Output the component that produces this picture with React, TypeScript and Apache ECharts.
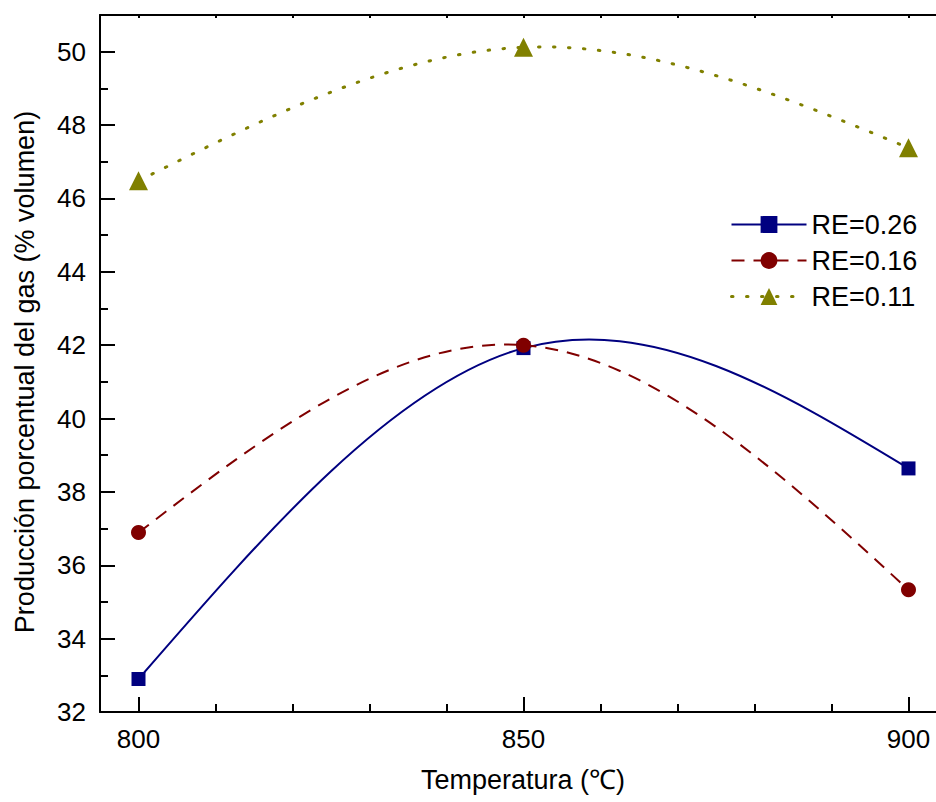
import React, { useEffect, useRef } from "react";
import * as echarts from "echarts";

const temperatures = [800, 850, 900];
const re026 = [32.9, 41.92, 38.64];
const re016 = [36.89, 42.0, 35.33];
const re011 = [46.48, 50.12, 47.38];

const xMajorTicks = [800, 850, 900];
const xMinorTicks = [810, 820, 830, 840, 860, 870, 880, 890];
const yMajorTicks = [32, 34, 36, 38, 40, 42, 44, 46, 48, 50];
const yMinorTicks = [33, 35, 37, 39, 41, 43, 45, 47, 49];

const seriesNames = ["RE=0.26", "RE=0.16", "RE=0.11"];

const FONT = "'Liberation Sans', Arial, sans-serif";

// Slopes of the natural cubic spline through (xs, ys) at each knot.
function splineSlopes(xs: number[], ys: number[]): number[] {
  const n = xs.length;
  if (n < 3) {
    const s = (ys[1] - ys[0]) / (xs[1] - xs[0]);
    return xs.map(() => s);
  }
  const h: number[] = [];
  for (let i = 0; i < n - 1; i++) h.push(xs[i + 1] - xs[i]);
  // tridiagonal system for interior second derivatives
  const m = n - 2;
  const a: number[] = [], b: number[] = [], c: number[] = [], d: number[] = [];
  for (let k = 0; k < m; k++) {
    const i = k + 1;
    a.push(h[i - 1]);
    b.push(2 * (h[i - 1] + h[i]));
    c.push(h[i]);
    d.push(6 * ((ys[i + 1] - ys[i]) / h[i] - (ys[i] - ys[i - 1]) / h[i - 1]));
  }
  for (let k = 1; k < m; k++) {
    const w = a[k] / b[k - 1];
    b[k] -= w * c[k - 1];
    d[k] -= w * d[k - 1];
  }
  const inner: number[] = new Array(m).fill(0);
  for (let k = m - 1; k >= 0; k--) {
    inner[k] = (d[k] - (k < m - 1 ? c[k] * inner[k + 1] : 0)) / b[k];
  }
  const M = [0, ...inner, 0];
  const slopes: number[] = [];
  for (let i = 0; i < n - 1; i++) {
    slopes.push((ys[i + 1] - ys[i]) / h[i] - (h[i] * (2 * M[i] + M[i + 1])) / 6);
  }
  const L = n - 2;
  slopes.push((ys[n - 1] - ys[L]) / h[L] + (h[L] * (M[L] + 2 * M[n - 1])) / 6);
  return slopes;
}

function splineSeries(ys: number[], color: string, lineStyle: any) {
  const slopes = splineSlopes(temperatures, ys);
  return {
    type: "custom",
    coordinateSystem: "cartesian2d",
    xAxisIndex: 0,
    yAxisIndex: 0,
    z: 1,
    silent: true,
    data: temperatures.map((t, i) => [t, ys[i]]),
    renderItem: (params: any, api: any) => {
      const i = params.dataIndex;
      if (i >= temperatures.length - 1) return null;
      const x0 = temperatures[i], x1 = temperatures[i + 1];
      const y0 = ys[i], y1 = ys[i + 1];
      const h = (x1 - x0) / 3;
      const p0 = api.coord([x0, y0]);
      const p1 = api.coord([x1, y1]);
      const c0 = api.coord([x0 + h, y0 + slopes[i] * h]);
      const c1 = api.coord([x1 - h, y1 - slopes[i + 1] * h]);
      return {
        type: "bezierCurve",
        shape: {
          x1: p0[0], y1: p0[1],
          x2: p1[0], y2: p1[1],
          cpx1: c0[0], cpy1: c0[1],
          cpx2: c1[0], cpy2: c1[1],
        },
        style: { fill: null, stroke: color, ...lineStyle },
      };
    },
  };
}

export default function App() {
  const ref = useRef<HTMLDivElement>(null);

  useEffect(() => {
    if (!ref.current) return;
    const chart = echarts.init(ref.current, null, { renderer: "svg" });
    const axisLine = { show: true, lineStyle: { color: "#000", width: 2 } };
    const xExtent = { min: 795, max: 905 };
    const yExtent = { min: 32, max: 51 };

    const colors = ["#000080", "#800000", "#808000"];
    const legendLines = [
      { color: colors[0], width: 2, type: "solid", opacity: 1 },
      { color: colors[1], width: 2, type: [13, 9], opacity: 1 },
      { color: colors[2], width: 3, type: [1.5, 13.5], cap: "round", opacity: 1 },
    ];

    chart.setOption({
      animation: false,
      backgroundColor: "#fff",
      grid: { left: 100, top: 15, bottom: 90, right: 13, containLabel: false },
      legend: {
        orient: "vertical",
        left: 725,
        top: 206,
        itemWidth: 75,
        itemHeight: 21,
        itemGap: 9,
        textStyle: { fontFamily: FONT, fontSize: 27, color: "#000" },
        data: seriesNames.map((n, i) => ({ name: n, lineStyle: legendLines[i] })),
      },
      xAxis: [
        {
          type: "value",
          position: "bottom",
          ...xExtent,
          axisLine,
          splitLine: { show: false },
          axisTick: {
            show: true,
            inside: true,
            length: 15,
            customValues: xMajorTicks,
            lineStyle: { color: "#000", width: 2 },
          },
          axisLabel: {
            customValues: xMajorTicks,
            margin: 14,
            fontFamily: FONT,
            fontSize: 26,
            color: "#000",
          },
        },
        {
          type: "value",
          position: "bottom",
          ...xExtent,
          axisLine: { show: false },
          splitLine: { show: false },
          axisTick: {
            show: true,
            inside: true,
            length: 8,
            customValues: xMinorTicks,
            lineStyle: { color: "#000", width: 2 },
          },
          axisLabel: { show: false },
        },
        {
          type: "value",
          position: "top",
          ...xExtent,
          axisLine,
          splitLine: { show: false },
          axisTick: {
            show: true,
            inside: true,
            length: 3,
            customValues: [...xMajorTicks, ...xMinorTicks],
            lineStyle: { color: "#000", width: 2 },
          },
          axisLabel: { show: false },
        },
      ],
      yAxis: [
        {
          type: "value",
          position: "left",
          ...yExtent,
          axisLine,
          splitLine: { show: false },
          axisTick: {
            show: true,
            inside: true,
            length: 15,
            customValues: yMajorTicks,
            lineStyle: { color: "#000", width: 2 },
          },
          axisLabel: {
            customValues: yMajorTicks,
            margin: 14,
            fontFamily: FONT,
            fontSize: 26,
            color: "#000",
          },
        },
        {
          type: "value",
          position: "left",
          ...yExtent,
          axisLine: { show: false },
          splitLine: { show: false },
          axisTick: {
            show: true,
            inside: true,
            length: 8,
            customValues: yMinorTicks,
            lineStyle: { color: "#000", width: 2 },
          },
          axisLabel: { show: false },
        },
        {
          type: "value",
          position: "right",
          ...yExtent,
          axisLine,
          splitLine: { show: false },
          axisTick: { show: false },
          axisLabel: { show: false },
        },
      ],
      graphic: [
        {
          type: "text",
          x: 523,
          y: 780,
          style: {
            text: "Temperatura (℃)",
            fontFamily: FONT,
            fontSize: 27,
            fill: "#000",
            textAlign: "center",
            textVerticalAlign: "middle",
          },
        },
        {
          type: "text",
          x: 25,
          y: 372,
          rotation: Math.PI / 2,
          style: {
            text: "Producción porcentual del gas (% volumen)",
            fontFamily: FONT,
            fontSize: 27,
            fill: "#000",
            textAlign: "center",
            textVerticalAlign: "middle",
          },
        },
      ],
      series: [
        splineSeries(re026, colors[0], { lineWidth: 2 }),
        splineSeries(re016, colors[1], { lineWidth: 2, lineDash: [13, 9] }),
        splineSeries(re011, colors[2], { lineWidth: 3, lineDash: [1.5, 13.5], lineCap: "round" }),
        {
          name: seriesNames[0],
          type: "line",
          z: 3,
          data: temperatures.map((t, i) => [t, re026[i]]),
          symbol: "rect",
          symbolSize: 14,
          itemStyle: { color: colors[0] },
          lineStyle: { color: colors[0], width: 2, opacity: 0 },
        },
        {
          name: seriesNames[1],
          type: "line",
          z: 3,
          data: temperatures.map((t, i) => [t, re016[i]]),
          symbol: "circle",
          symbolSize: 15,
          itemStyle: { color: colors[1] },
          lineStyle: { color: colors[1], width: 2, opacity: 0 },
        },
        {
          name: seriesNames[2],
          type: "line",
          z: 3,
          data: temperatures.map((t, i) => [t, re011[i]]),
          symbol: "triangle",
          symbolSize: 19,
          itemStyle: { color: colors[2] },
          lineStyle: { color: colors[2], width: 3, opacity: 0 },
        },
      ],
    });
    return () => chart.dispose();
  }, []);

  return (
    <div style={{ position: "fixed", left: 0, top: 0, width: 936, height: 802, overflow: "hidden", background: "#fff" }}>
      <div ref={ref} style={{ width: 960, height: 802 }} />
    </div>
  );
}
